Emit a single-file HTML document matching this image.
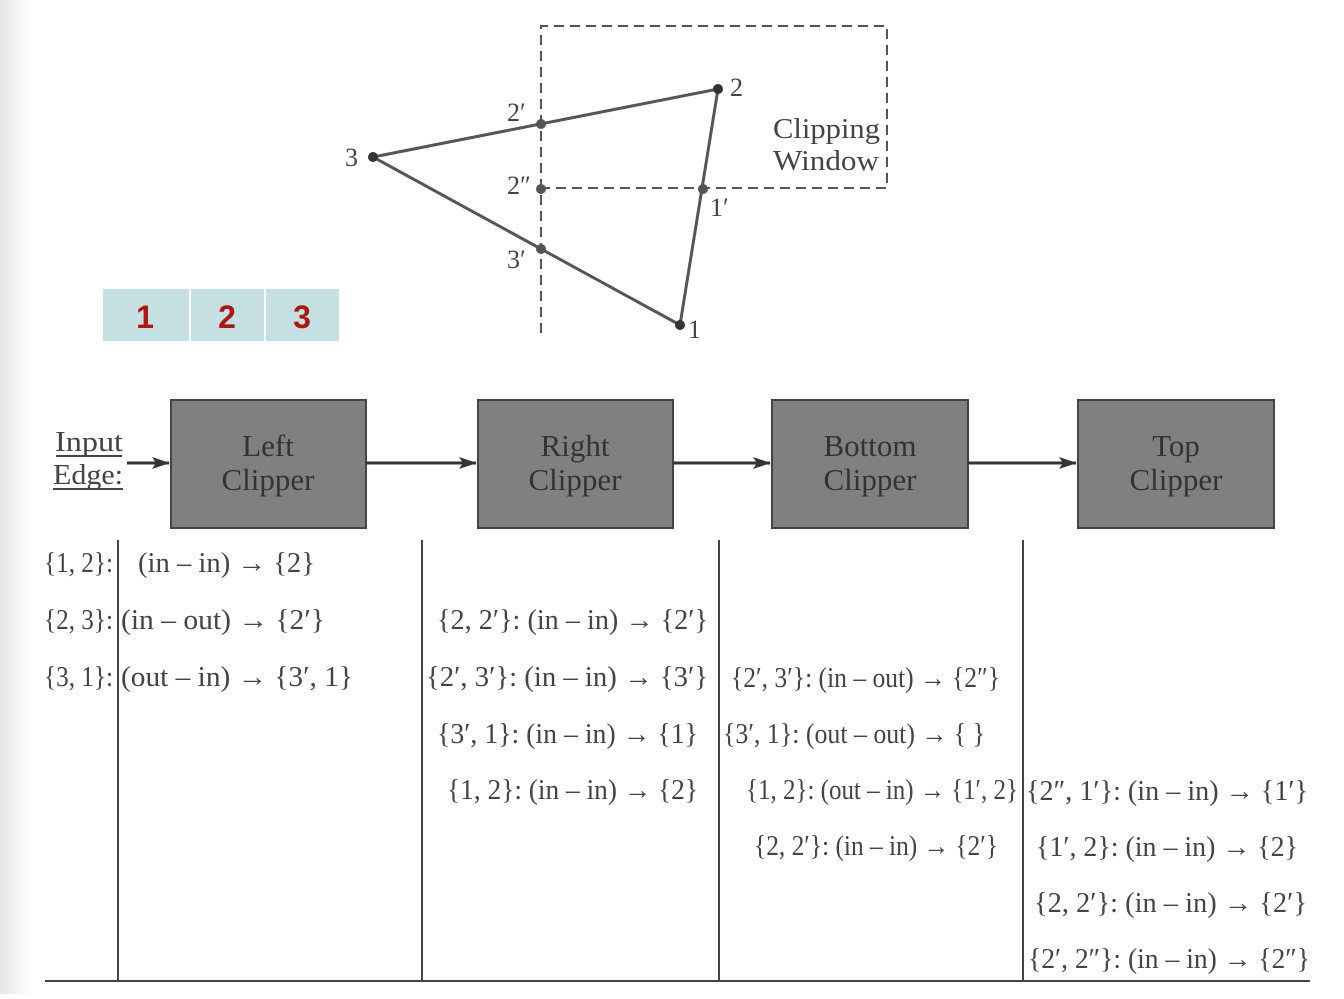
<!DOCTYPE html>
<html><head><meta charset="utf-8"><style>
body{margin:0;background:#fff}
svg text{font-family:"Liberation Serif",serif;fill:#444}
</style></head><body>
<svg width="1344" height="994" viewBox="0 0 1344 994" xmlns="http://www.w3.org/2000/svg">
<defs>
<linearGradient id="g" x1="0" x2="1"><stop offset="0" stop-color="#e6e6e6"/><stop offset="1" stop-color="#fff"/></linearGradient>
<marker id="a" markerWidth="18" markerHeight="12" refX="17" refY="6" orient="auto" markerUnits="userSpaceOnUse"><path d="M0,0 L18,6 L0,12 L4,6z" fill="#333"/></marker>
</defs>
<rect x="0" y="0" width="34" height="994" fill="url(#g)"/>
<g stroke="#555" stroke-width="2" stroke-dasharray="10,6" fill="none">
<path d="M541,333 V26 H887 V188 H541"/>
</g>
<g stroke="#555" stroke-width="3" fill="none">
<polygon points="373,157 718,89 680,325"/>
</g>
<g fill="#333">
<circle cx="373" cy="157" r="5"/><circle cx="718" cy="89" r="5"/><circle cx="680" cy="325" r="5"/>
</g>
<g fill="#555">
<circle cx="541" cy="124" r="5"/><circle cx="541" cy="189" r="5"/><circle cx="541" cy="249" r="5"/><circle cx="703" cy="189" r="5"/>
</g>
<g font-size="26">
<text x="345" y="166">3</text><text x="730" y="96">2</text><text x="688" y="338">1</text>
<text x="507" y="121">2′</text><text x="507" y="194">2″</text><text x="507" y="268">3′</text><text x="710" y="216">1′</text>
<text x="773" y="138" textLength="107" lengthAdjust="spacingAndGlyphs" font-size="28">Clipping</text><text x="773" y="170" textLength="106" lengthAdjust="spacingAndGlyphs" font-size="28">Window</text>
</g>
<rect x="103" y="289" width="86" height="52" fill="#c4e0e3"/>
<rect x="191" y="289" width="73" height="52" fill="#c4e0e3"/>
<rect x="266" y="289" width="73" height="52" fill="#c4e0e3"/>
<g font-weight="bold" font-size="32" text-anchor="middle">
<text x="145" y="328" style="fill:#b0150f;font-family:'Liberation Sans',sans-serif">1</text>
<text x="227" y="328" style="fill:#b0150f;font-family:'Liberation Sans',sans-serif">2</text>
<text x="302" y="328" style="fill:#b0150f;font-family:'Liberation Sans',sans-serif">3</text>
</g>
<g fill="#808080" stroke="#444" stroke-width="2">
<rect x="171" y="400" width="195" height="128"/><rect x="478" y="400" width="195" height="128"/>
<rect x="772" y="400" width="196" height="128"/><rect x="1078" y="400" width="196" height="128"/>
</g>
<g stroke="#333" stroke-width="3" marker-end="url(#a)">
<line x1="127" y1="463" x2="169" y2="463"/><line x1="366" y1="463" x2="476" y2="463"/>
<line x1="673" y1="463" x2="770" y2="463"/><line x1="968" y1="463" x2="1076" y2="463"/>
</g>
<g font-size="31" text-anchor="middle">
<text x="268" y="456" style="fill:#333">Left</text><text x="268" y="490" style="fill:#333">Clipper</text>
<text x="575" y="456" style="fill:#333">Right</text><text x="575" y="490" style="fill:#333">Clipper</text>
<text x="870" y="456" style="fill:#333">Bottom</text><text x="870" y="490" style="fill:#333">Clipper</text>
<text x="1176" y="456" style="fill:#333">Top</text><text x="1176" y="490" style="fill:#333">Clipper</text>
</g>
<g font-size="28">
<text x="55" y="451" textLength="68" lengthAdjust="spacingAndGlyphs">Input</text><text x="53" y="484" textLength="70" lengthAdjust="spacingAndGlyphs">Edge:</text>
</g>
<g stroke="#444" stroke-width="2">
<line x1="56" y1="456" x2="122" y2="456"/><line x1="53" y1="489" x2="123" y2="489"/>
<line x1="118" y1="540" x2="118" y2="981"/><line x1="422" y1="540" x2="422" y2="981"/>
<line x1="719" y1="540" x2="719" y2="981"/><line x1="1023" y1="540" x2="1023" y2="981"/>
<line x1="45" y1="981" x2="1310" y2="981"/>
</g>
<g font-size="28" lengthAdjust="spacingAndGlyphs">
<text x="44" y="572" textLength="69" lengthAdjust="spacingAndGlyphs">{1, 2}:</text><text x="138" y="572" textLength="177" lengthAdjust="spacingAndGlyphs">(in – in) → {2}</text>
<text x="44" y="629" textLength="69" lengthAdjust="spacingAndGlyphs">{2, 3}:</text><text x="121" y="629" textLength="204" lengthAdjust="spacingAndGlyphs">(in – out) → {2′}</text>
<text x="44" y="686" textLength="69" lengthAdjust="spacingAndGlyphs">{3, 1}:</text><text x="121" y="686" textLength="232" lengthAdjust="spacingAndGlyphs">(out – in) → {3′, 1}</text>
<text x="437" y="629" textLength="271" lengthAdjust="spacingAndGlyphs">{2, 2′}: (in – in) → {2′}</text>
<text x="426" y="686" textLength="282" lengthAdjust="spacingAndGlyphs">{2′, 3′}: (in – in) → {3′}</text>
<text x="437" y="743" textLength="261" lengthAdjust="spacingAndGlyphs">{3′, 1}: (in – in) → {1}</text>
<text x="447" y="799" textLength="251" lengthAdjust="spacingAndGlyphs">{1, 2}: (in – in) → {2}</text>
<text x="731" y="687" textLength="269" lengthAdjust="spacingAndGlyphs">{2′, 3′}: (in – out) → {2″}</text>
<text x="723" y="743" textLength="262" lengthAdjust="spacingAndGlyphs">{3′, 1}: (out – out) → { }</text>
<text x="746" y="799" textLength="272" lengthAdjust="spacingAndGlyphs">{1, 2}: (out – in) → {1′, 2}</text>
<text x="754" y="855" textLength="244" lengthAdjust="spacingAndGlyphs">{2, 2′}: (in – in) → {2′}</text>
<text x="1026" y="800" textLength="282" lengthAdjust="spacingAndGlyphs">{2″, 1′}: (in – in) → {1′}</text>
<text x="1036" y="856" textLength="262" lengthAdjust="spacingAndGlyphs">{1′, 2}: (in – in) → {2}</text>
<text x="1034" y="912" textLength="273" lengthAdjust="spacingAndGlyphs">{2, 2′}: (in – in) → {2′}</text>
<text x="1028" y="968" textLength="282" lengthAdjust="spacingAndGlyphs">{2′, 2″}: (in – in) → {2″}</text>
</g>
</svg>
</body></html>
